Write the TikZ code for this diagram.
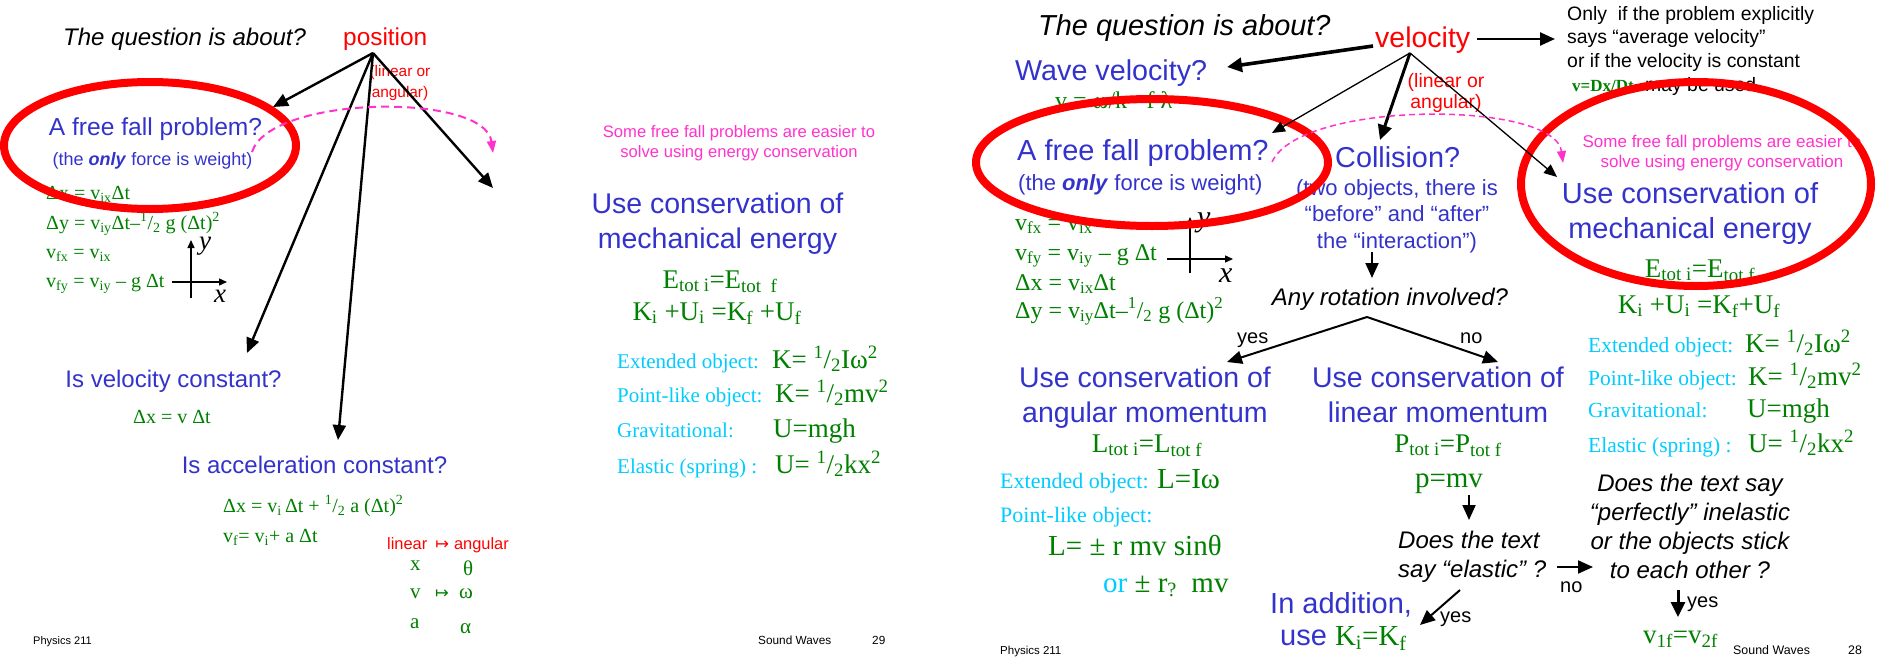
\documentclass[tikz,border=0pt]{standalone}
\usepackage{fontspec}
\setmainfont{Liberation Serif}
\setsansfont{Liberation Sans}
\newfontfamily\symfont{DejaVu Sans}
\usepackage{xcolor}
\usetikzlibrary{arrows.meta}
\definecolor{askblue}{RGB}{51,51,204}
\definecolor{eqgreen}{RGB}{0,128,0}
\definecolor{keyred}{RGB}{255,0,0}
\definecolor{tippink}{RGB}{255,51,204}
\definecolor{hintcyan}{RGB}{0,204,255}
\newcommand{\fsz}[2]{\fontsize{#1}{#2}\selectfont}
\newcommand{\half}{\textsuperscript{1}/\textsubscript{2}}
\tikzset{
  prompt/.style 2 args={font=\sffamily\fsz{#1}{#2}, inner sep=0pt},
  ask/.style 2 args={font=\sffamily\fsz{#1}{#2}, text=askblue, inner sep=0pt},
  key/.style 2 args={font=\sffamily\fsz{#1}{#2}, text=keyred, inner sep=0pt},
  tipnote/.style 2 args={font=\sffamily\fsz{#1}{#2}, text=tippink, inner sep=0pt},
  eqn/.style={font=\rmfamily\fsz{#1}{#1}, text=eqgreen, inner sep=0pt},
  hint/.style={font=\rmfamily\fsz{#1}{#1}, text=hintcyan, inner sep=0pt},
  line/.style={-{Triangle[length=15pt,width=13pt]}, line width=2.4pt},
  thinline/.style={-{Triangle[length=13pt,width=11pt]}, line width=1.3pt},
  fatline/.style={-{Triangle[length=15pt,width=14pt]}, line width=3.6pt},
  hop/.style={draw=tippink, dash pattern=on 8pt off 5pt, line width=2pt, -{Triangle[length=12pt,width=9pt]}},
  ring/.style={draw=keyred, line width=8pt},
  axis/.style={-{Triangle[length=8pt,width=7pt]}, line width=1.4pt}
}

\begin{document}
\begin{tikzpicture}[x=1pt, y=-1pt]
  \useasboundingbox (0,0) rectangle (1882,656);

  % left slide
  \node[prompt={24}{24}, anchor=base west] (qL) at (63,45) {\itshape The question is about?};
  \node[key={24.4}{24}, anchor=base west] (posL) at (343,45) {position};
  \node[key={15.4}{21}, align=center, anchor=base] (linL) at (400,97) {(linear or\\angular)};
  \node[ask={24.6}{24}, anchor=base] (ffL) at (155.5,135) {A free fall problem?};
  \node[ask={18}{18}, anchor=base] (ffsubL) at (152.5,165) {(the \textbf{\itshape only} force is weight)};
  \node[eqn=20, anchor=base west] (dxL) at (46,199) {Δx = v\textsubscript{ix}Δt};
  \node[eqn=20, anchor=base west] (dyL) at (46,229) {Δy = v\textsubscript{iy}Δt–\half\ g (Δt)\textsuperscript{2}};
  \node[eqn=20, anchor=base west] (vfxL) at (46,258) {v\textsubscript{fx} = v\textsubscript{ix}};
  \node[eqn=20, anchor=base west] (vfyL) at (46,287) {v\textsubscript{fy} = v\textsubscript{iy} – g Δt};
  \node[font=\rmfamily\fsz{27}{27}, inner sep=0pt, anchor=base west] (yL) at (199,249) {\itshape y};
  \node[font=\rmfamily\fsz{27}{27}, inner sep=0pt, anchor=base west] (xL) at (214,302) {\itshape x};
  \node[ask={24}{24}, anchor=base] (velQL) at (173.5,387) {Is velocity constant?};
  \node[eqn=20, anchor=base] (velEqL) at (172,423) {Δx = v Δt};
  \node[ask={24}{24}, anchor=base] (accQL) at (314.5,473) {Is acceleration constant?};
  \node[eqn=20, anchor=base west] (accEqL) at (223,512) {Δx = v\textsubscript{i}\,Δt + \half\ a (Δt)\textsuperscript{2}};
  \node[eqn=20, anchor=base west] (accVL) at (223,542) {v\textsubscript{f}= v\textsubscript{i}+ a Δt};
  \node[key={16.4}{16}, anchor=base west] (mapL) at (387,549) {linear\hspace{8pt}{\symfont ↦}\hspace{5pt}angular};
  \node[eqn=21, anchor=base west] (mxL) at (410,570) {x};
  \node[eqn=21, anchor=base west] (mthL) at (463,575) {θ};
  \node[eqn=21, anchor=base west] (mvL) at (410,598) {v};
  \node[eqn=21, anchor=base west] (marL) at (435,598) {\symfont\fsz{16.4}{16}↦};
  \node[eqn=21, anchor=base west] (mwL) at (459,598) {ω};
  \node[eqn=21, anchor=base west] (maL) at (410,628) {a};
  \node[eqn=21, anchor=base west] (malL) at (460,633) {α};
  \node[tipnote={16.6}{20}, align=center, anchor=base] (easyL) at (739,157) {Some free fall problems are easier to\\solve using energy conservation};
  \node[ask={28.5}{35}, align=center, anchor=base] (mechL) at (717.5,248) {Use conservation of\\mechanical energy};
  \node[eqn=27, anchor=base] (etotL) at (720,288) {E\textsubscript{tot i}=E\textsubscript{tot\ \ f}};
  \node[eqn=27, anchor=base] (kuL) at (717,320) {K\textsubscript{i} +U\textsubscript{i} =K\textsubscript{f} +U\textsubscript{f}};
  \node[hint=21, anchor=base west] (extL) at (617,368) {Extended object:};
  \node[eqn=27, anchor=base west] (kextL) at (772,368) {K= \half Iω\textsuperscript{2}};
  \node[hint=21, anchor=base west] (ptL) at (617,402) {Point-like object:};
  \node[eqn=27, anchor=base west] (kptL) at (775,402) {K= \half mv\textsuperscript{2}};
  \node[hint=21, anchor=base west] (grL) at (617,437) {Gravitational:};
  \node[eqn=27, anchor=base west] (ugrL) at (773,437) {U=mgh};
  \node[hint=21, anchor=base west] (elL) at (617,473) {Elastic (spring) :};
  \node[eqn=27, anchor=base west] (uelL) at (775,473) {U= \half kx\textsuperscript{2}};
  \node[prompt={11}{11}, anchor=base west] (physL) at (33,644) {Physics 211};
  \node[prompt={11.8}{12}, anchor=base west] (soundL) at (758,644) {Sound Waves};
  \node[prompt={11.8}{12}, anchor=base west] (pageL) at (872,644) {29};

  % right slide
  \node[prompt={28.9}{29}, anchor=base west] (qR) at (1038,35) {\itshape The question is about?};
  \node[key={28.5}{29}, anchor=base west] (velR) at (1375,47) {velocity};
  \node[prompt={19.4}{23.5}, align=left, anchor=base west] (onlyR) at (1567,67) {Only\ \ if the problem explicitly\\says “average velocity”\\or if the velocity is constant};
  \node[eqn=17, anchor=base west] (dxdtR) at (1572,91) {\bfseries v=Dx/Dt};
  \node[prompt={19.4}{19}, anchor=base west] (usedR) at (1645,91) {may be used};
  \node[key={19.4}{21}, align=center, anchor=base] (linR) at (1446,108) {(linear or\\angular)};
  \node[ask={28.7}{29}, anchor=base west] (waveR) at (1015,80) {Wave velocity?};
  \node[eqn=24, anchor=base west] (waveEqR) at (1055,108) {v = ω/k =f λ};
  \node[ask={29}{29}, anchor=base west] (ffR) at (1017,160) {A free fall problem?};
  \node[ask={22}{22}, anchor=base west] (ffsubR) at (1018,190) {(the \textbf{\itshape only} force is weight)};
  \node[eqn=24, anchor=base west] (vfxR) at (1015,230) {v\textsubscript{fx} = v\textsubscript{ix}};
  \node[eqn=24, anchor=base west] (vfyR) at (1015,260) {v\textsubscript{fy} = v\textsubscript{iy} – g Δt};
  \node[eqn=24, anchor=base west] (dxR) at (1015,290) {Δx = v\textsubscript{ix}Δt};
  \node[eqn=24, anchor=base west] (dyR) at (1015,318) {Δy = v\textsubscript{iy}Δt–\half\ g (Δt)\textsuperscript{2}};
  \node[font=\rmfamily\fsz{30}{30}, inner sep=0pt, anchor=base west] (yR) at (1197,226) {\itshape y};
  \node[font=\rmfamily\fsz{30}{30}, inner sep=0pt, anchor=base west] (xR) at (1219,282) {\itshape x};
  \node[ask={28.8}{29}, anchor=base west] (collR) at (1335,167) {Collision?};
  \node[ask={22}{26.5}, align=center, anchor=base] (collsubR) at (1397,248) {(two objects, there is\\“before” and “after”\\the “interaction”)};
  \node[prompt={24}{24}, anchor=base] (rotR) at (1390,305) {\itshape Any rotation involved?};
  \node[prompt={20}{20}, anchor=base west] (yesA) at (1237,343) {yes};
  \node[prompt={20}{20}, anchor=base west] (noA) at (1460,343) {no};
  \node[ask={28.5}{35}, align=center, anchor=base] (angR) at (1145,422) {Use conservation of\\angular momentum};
  \node[eqn=27, anchor=base] (ltotR) at (1147,452) {L\textsubscript{tot i}=L\textsubscript{tot f}};
  \node[hint=22, anchor=base west] (extAR) at (1000,488) {Extended object:};
  \node[eqn=29, anchor=base west] (liwR) at (1157,488) {L=Iω};
  \node[hint=22, anchor=base west] (ptAR) at (1000,522) {Point-like object:};
  \node[eqn=29, anchor=base west] (lmvR) at (1048,555) {L= ± r mv sinθ};
  \node[eqn=29, anchor=base west] (orR) at (1103,592) {{\color{hintcyan}or} ± r\textsubscript{?}\ \ mv};
  \node[ask={28.5}{35}, align=center, anchor=base] (linmR) at (1438,422) {Use conservation of\\linear momentum};
  \node[eqn=27, anchor=base] (ptotR) at (1448,452) {P\textsubscript{tot\ i}=P\textsubscript{tot f}};
  \node[eqn=29, anchor=base] (pmvR) at (1449,487) {p=mv};
  \node[prompt={24}{29}, align=left, anchor=base west] (elasR) at (1398,577) {\itshape Does the text\\\itshape say “elastic” ?};
  \node[prompt={20}{20}, anchor=base west] (noB) at (1560,592) {no};
  \node[prompt={20}{20}, anchor=base west] (yesB) at (1440,622) {yes};
  \node[ask={29}{29}, anchor=base west] (addR) at (1270,613) {In addition,};
  \node[ask={29}{29}, anchor=base west] (useR) at (1280,645) {use {\rmfamily\color{eqgreen}K\textsubscript{i}=K\textsubscript{f}}};
  \node[prompt={24}{28.7}, align=center, anchor=base] (stickR) at (1690,578) {\itshape Does the text say\\\itshape “perfectly” inelastic\\\itshape or the objects stick\\\itshape to each other ?};
  \node[prompt={20}{20}, anchor=base west] (yesC) at (1687,607) {yes};
  \node[eqn=27, anchor=base west] (v1fR) at (1643,643) {v\textsubscript{1f}=v\textsubscript{2f}};
  \node[tipnote={17}{20}, align=center, anchor=base] (easyR) at (1722,167) {Some free fall problems are easier to\\solve using energy conservation};
  \node[ask={29}{35}, align=center, anchor=base] (mechR) at (1690,238) {Use conservation of\\mechanical energy};
  \node[eqn=27, anchor=base] (etotR) at (1700,277) {E\textsubscript{tot i}=E\textsubscript{tot f}};
  \node[eqn=27, anchor=base] (kuR) at (1699,313) {K\textsubscript{i} +U\textsubscript{i} =K\textsubscript{f}+U\textsubscript{f}};
  \node[hint=21.5, anchor=base west] (extR) at (1588,352) {Extended object:};
  \node[eqn=27, anchor=base west] (kextR) at (1745,352) {K= \half Iω\textsuperscript{2}};
  \node[hint=21.5, anchor=base west] (ptR) at (1588,385) {Point-like object:};
  \node[eqn=27, anchor=base west] (kptR) at (1748,385) {K= \half mv\textsuperscript{2}};
  \node[hint=21.5, anchor=base west] (grR) at (1588,417) {Gravitational:};
  \node[eqn=27, anchor=base west] (ugrR) at (1747,417) {U=mgh};
  \node[hint=21.5, anchor=base west] (elR) at (1588,452) {Elastic (spring) :};
  \node[eqn=27, anchor=base west] (uelR) at (1748,452) {U= \half kx\textsuperscript{2}};
  \node[prompt={11.5}{12}, anchor=base west] (physR) at (1000,654) {Physics 211};
  \node[prompt={12.4}{12}, anchor=base west] (soundR) at (1733,654) {Sound Waves};
  \node[prompt={12.4}{12}, anchor=base west] (pageR) at (1848,654) {28};

  % axes
  \draw[axis] (191,298) -- (191,240);
  \draw[axis] (172,282) -- (227,282);
  \draw[axis] (1190,273) -- (1190,217);
  \draw[axis] (1167,259) -- (1233,259);

  % rings
  \draw[ring] (150,145.5) ellipse [x radius=146, y radius=63.5];
  \draw[ring] (1152,162.5) ellipse [x radius=176, y radius=63.5];
  \draw[ring] (1696,184) ellipse [x radius=175, y radius=102];

  % connectors, left
  \coordinate (posTop) at (373,53);
  \coordinate (ffHitL) at (273,107);
  \coordinate (velHitL) at (247,353);
  \coordinate (accHitL) at (338,440);
  \coordinate (mechHitL) at (493,188);
  \coordinate (ffEndL) at (252,152);
  \coordinate (easyHitL) at (493,153);
  \draw[line] (posTop) -- (ffHitL);
  \draw[line] (posTop) -- (velHitL);
  \draw[line] (posTop) -- (accHitL);
  \draw[line] (posTop) -- (mechHitL);
  \draw[hop] (ffEndL) .. controls (270,95) and (485,92) .. (easyHitL);

  % connectors, right
  \coordinate (velTop) at (1410,53);
  \coordinate (velSide) at (1477,39);
  \coordinate (onlyHit) at (1555,39);
  \coordinate (velLeft) at (1373,46);
  \coordinate (waveHit) at (1227,67);
  \coordinate (ffHitR) at (1272,133);
  \coordinate (collHit) at (1380,140);
  \coordinate (mechHitR) at (1557,177);
  \coordinate (ffEndR) at (1272,162);
  \coordinate (easyHitR) at (1563,163);
  \draw[line] (velSide) -- (onlyHit);
  \draw[fatline] (velLeft) -- (waveHit);
  \draw[thinline] (velTop) -- (ffHitR);
  \draw[fatline, line width=3pt] (velTop) -- (collHit);
  \draw[thinline] (velTop) -- (mechHitR);
  \draw[hop, line width=1.5pt, dash pattern=on 6pt off 4pt] (ffEndR) .. controls (1300,100) and (1555,100) .. (easyHitR);

  \coordinate (collOut) at (1372,252);
  \coordinate (rotHit) at (1372,278);
  \coordinate (rotTop) at (1367,317);
  \coordinate (angHit) at (1227,362);
  \coordinate (linHit) at (1498,362);
  \coordinate (pmvOut) at (1469,495);
  \coordinate (elasHit) at (1469,520);
  \coordinate (elasOut) at (1557,567);
  \coordinate (stickHit) at (1593,567);
  \coordinate (elasLow) at (1460,590);
  \coordinate (addHit) at (1420,625);
  \coordinate (stickOut) at (1678,590);
  \coordinate (v1fHit) at (1678,617);
  \draw[line, line width=2pt] (collOut) -- (rotHit);
  \draw[line, line width=2pt] (rotTop) -- (angHit);
  \draw[line, line width=2pt] (rotTop) -- (linHit);
  \draw[line, line width=2pt] (pmvOut) -- (elasHit);
  \draw[line, line width=2pt] (elasOut) -- (stickHit);
  \draw[line, line width=2pt] (elasLow) -- (addHit);
  \draw[fatline, line width=3pt] (stickOut) -- (v1fHit);
\end{tikzpicture}
\end{document}
